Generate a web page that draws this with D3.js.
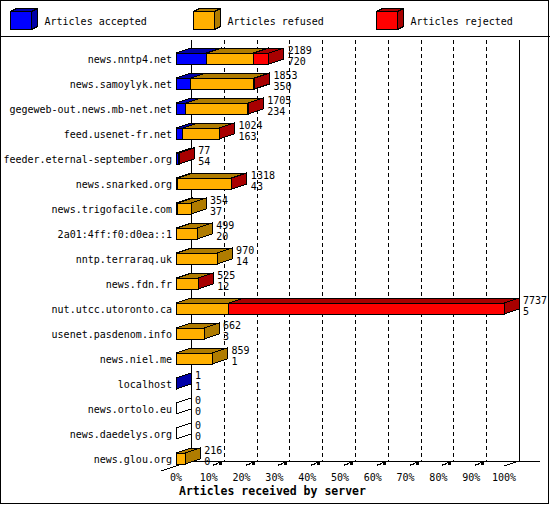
<!DOCTYPE html>
<html>
<head>
<meta charset="utf-8">
<script src="https://cdn.jsdelivr.net/npm/d3@7"></script>
<style>
  body { margin: 0; background: #fff; }
  text { font-family: "DejaVu Sans Mono", monospace; font-size: 10px; fill: #000; }
</style>
</head>
<body>
<div id="chart"></div>
<script>
var servers = ["news.nntp4.net", "news.samoylyk.net", "gegeweb-out.news.mb-net.net", "feed.usenet-fr.net",
  "feeder.eternal-september.org", "news.snarked.org", "news.trigofacile.com", "2a01:4ff:f0:d0ea::1",
  "nntp.terraraq.uk", "news.fdn.fr", "nut.utcc.utoronto.ca", "usenet.pasdenom.info", "news.niel.me",
  "localhost", "news.ortolo.eu", "news.daedelys.org", "news.glou.org"];
var accepted = [720, 350, 234, 163, 54, 43, 37, 20, 14, 12, 5, 3, 1, 1, 0, 0, 0];
var refused  = [1110, 1488, 1461, 853, 0, 1265, 317, 479, 956, 508, 1240, 659, 858, 0, 0, 0, 216];
var rejected = [359, 15, 10, 8, 23, 10, 0, 0, 0, 5, 6492, 0, 0, 0, 0, 0, 0];
var seriesNames = ["Articles accepted", "Articles refused", "Articles rejected"];
var tickPct = [0, 10, 20, 30, 40, 50, 60, 70, 80, 90, 100];

var fronts = ["#0000ff", "#ffb000", "#ff0000"];
var darks  = ["#0000a8", "#b07c00", "#a80000"];

var W = 550, H = 505;
var DX = 15, DY = -5;
var x0 = 176, x1 = 504;
var wallTop = 40, floorY = 461;

var totals = servers.map(function(s, i) { return accepted[i] + refused[i] + rejected[i]; });
var x = d3.scaleLinear().domain([0, d3.max(totals)]).range([x0, x1]);
var pct = d3.scaleLinear().domain([0, 100]).range([x0, x1]);
var y = d3.scalePoint().domain(servers).range([59, 459]);

var svg = d3.select("#chart").append("svg")
  .attr("width", W)
  .attr("height", H)
  .attr("shape-rendering", "crispEdges");

svg.append("rect")
  .attr("x", 0.5).attr("y", 0.5)
  .attr("width", W - 2).attr("height", H - 2)
  .attr("fill", "#fff").attr("stroke", "#000");

svg.append("line")
  .attr("x1", 0).attr("x2", W)
  .attr("y1", 36.5).attr("y2", 36.5)
  .attr("stroke", "#000");

function box(g, a, b, top, bot, fill, dark) {
  g.append("rect")
    .attr("x", a).attr("y", top)
    .attr("width", b - a).attr("height", bot - top)
    .attr("fill", fill).attr("stroke", "#000");
  g.append("path")
    .attr("d", "M" + a + "," + top + "L" + (a + DX) + "," + (top + DY) + "L" + (b + DX) + "," + (top + DY) + "L" + b + "," + top + "Z")
    .attr("fill", dark).attr("stroke", "#000");
  g.append("path")
    .attr("d", "M" + b + "," + top + "L" + (b + DX) + "," + (top + DY) + "L" + (b + DX) + "," + (bot + DY) + "L" + b + "," + bot + "Z")
    .attr("fill", dark).attr("stroke", "#000");
}

// legend
var leg = svg.append("g");
seriesNames.forEach(function(name, i) {
  var lx = 10.5 + i * 183;
  var lg = leg.append("g");
  lg.append("rect").attr("x", lx).attr("y", 11.5).attr("width", 21).attr("height", 18)
    .attr("fill", fronts[i]).attr("stroke", "#000");
  lg.append("path")
    .attr("d", "M" + lx + ",11.5L" + (lx + 6) + ",8.5L" + (lx + 27) + ",8.5L" + (lx + 21) + ",11.5Z")
    .attr("fill", darks[i]).attr("stroke", "#000");
  lg.append("path")
    .attr("d", "M" + (lx + 21) + ",11.5L" + (lx + 27) + ",8.5L" + (lx + 27) + ",26.5L" + (lx + 21) + ",29.5Z")
    .attr("fill", darks[i]).attr("stroke", "#000");
  lg.append("text").attr("x", lx + 34).attr("y", 24.5).text(name);
});

// back wall and floor
var wall = svg.append("g").attr("stroke", "#000");
wall.append("line").attr("x1", x0 + DX + 0.5).attr("x2", x0 + DX + 0.5).attr("y1", wallTop).attr("y2", floorY);
wall.append("line").attr("x1", x1 + DX + 0.5).attr("x2", x1 + DX + 0.5).attr("y1", wallTop).attr("y2", floorY);
wall.append("line").attr("x1", x0 + DX).attr("x2", 540).attr("y1", floorY + 0.5).attr("y2", floorY + 0.5);
wall.append("line").attr("x1", x0 - DX).attr("y1", floorY + 10).attr("x2", x0 + DX).attr("y2", floorY);
wall.append("line").attr("x1", x1).attr("y1", floorY + 5).attr("x2", x1 + DX).attr("y2", floorY);

wall.selectAll(".grid").data(tickPct.slice(1, -1)).enter().append("line")
  .attr("x1", function(d) { return Math.round(pct(d) + DX) + 0.5; })
  .attr("x2", function(d) { return Math.round(pct(d) + DX) + 0.5; })
  .attr("y1", wallTop).attr("y2", floorY)
  .attr("stroke-dasharray", "4,3");

wall.selectAll(".tick").data(tickPct.slice(1, -1)).enter().append("path")
  .attr("d", function(d) {
    var t = Math.round(pct(d));
    return "M" + (t + 4) + "," + (floorY + 4) + "L" + (t + 8) + "," + (floorY + 3) + "L" + (t + 10) + "," + (floorY + 1) + "h2v2h-2";
  })
  .attr("fill", "none").attr("stroke-width", 1.4);

svg.selectAll(".tl").data(tickPct).enter().append("text")
  .attr("x", function(d) { return pct(d); })
  .attr("y", 481)
  .attr("text-anchor", "middle")
  .text(function(d) { return d + "%"; });

svg.append("text")
  .attr("x", 179).attr("y", 495)
  .style("font-weight", "bold").style("font-size", "11.5px")
  .text("Articles received by server");

// bars
var bars = svg.append("g");
servers.forEach(function(s, i) {
  var cy = y(s);
  var top = cy - 6, bot = cy + 5;
  var g = bars.append("g");
  var vals = [accepted[i], refused[i], rejected[i]];
  var start = 0;
  var drawn = false;
  vals.forEach(function(v, k) {
    if (v <= 0) return;
    box(g, x(start), x(start + v), top, bot, fronts[k], darks[k]);
    start += v;
    drawn = true;
  });
  if (!drawn) box(g, x0, x0, top, bot, "#fff", "#fff");
  var lx = x(totals[i]) + DX + 4;
  g.append("text").attr("x", lx).attr("y", cy - 5).text(totals[i]);
  g.append("text").attr("x", lx).attr("y", cy + 6).text(accepted[i]);
  svg.append("text")
    .attr("x", 172).attr("y", cy + 4)
    .attr("text-anchor", "end")
    .text(s);
});
</script>
</body>
</html>
